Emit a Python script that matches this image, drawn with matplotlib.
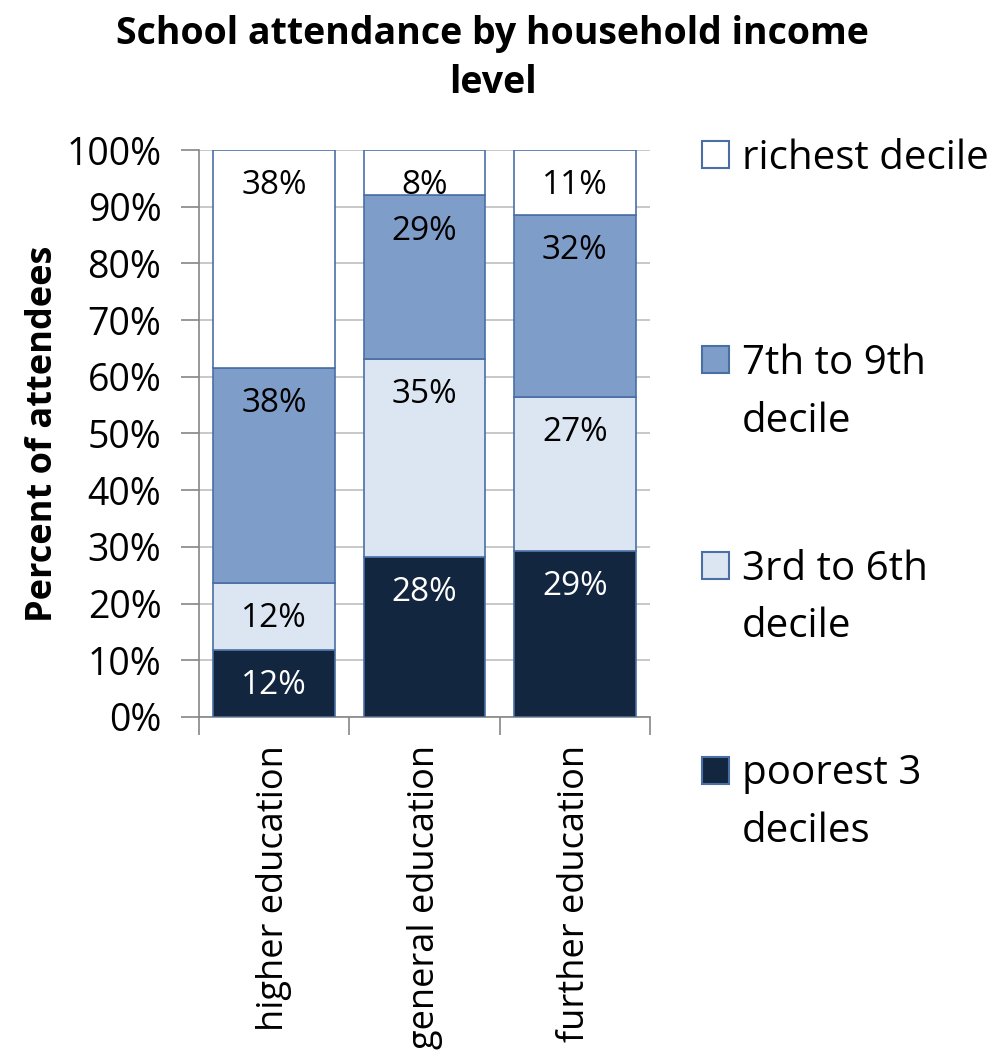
import matplotlib
matplotlib.use("Agg")
import matplotlib.pyplot as plt
from matplotlib.patches import Rectangle
import numpy as np

plt.rcParams['font.family'] = ['Open Sans', 'DejaVu Sans']

# categories and series (percent of attendees)
categories = ['higher education', 'general education', 'further education']
series_names = ['poorest 3\ndeciles', '3rd to 6th\ndecile', '7th to 9th\ndecile', 'richest decile']
poorest = [11.9, 28.2, 29.3]
middle = [11.8, 35.0, 27.2]
upper = [37.9, 28.8, 32.1]
richest = [38.4, 8.0, 11.4]
yticks = [0, 10, 20, 30, 40, 50, 60, 70, 80, 90, 100]

colors = ['#13263F', '#DCE6F2', '#7F9DC9', '#FFFFFF']
label_colors = ['white', 'black', 'black', 'black']
edge = '#4A6FA5'

fig = plt.figure(figsize=(10.05, 10.55), dpi=100)
ax = fig.add_axes([0.198, 0.3204, 0.4488, 0.5374])

x = np.arange(len(categories))
bottom = np.zeros(len(categories))
for vals, col, lc in zip([poorest, middle, upper, richest], colors, label_colors):
    vals = np.array(vals)
    ax.bar(x, vals, bottom=bottom, width=0.81, color=col, edgecolor=edge, linewidth=1.2, zorder=3)
    top = bottom + vals
    for xi, t, v in zip(x, top, vals):
        ax.text(xi, t - 6.3, '%.0f%%' % v, ha='center', va='center', fontsize=24, color=lc, zorder=4)
    bottom = top

ax.set_xlim(-0.5, len(categories) - 0.5)
ax.set_ylim(0, 100)
ax.set_yticks(yticks)
ax.set_yticklabels(['%d%%' % v for v in yticks], fontsize=27)
ax.yaxis.grid(True, color='#BFBFBF', linewidth=1.2, zorder=0)

# category labels at centres, tick marks at boundaries
ax.set_xticks(x)
ax.set_xticklabels(categories, rotation=90, fontsize=26, va='top')
ax.tick_params(axis='x', length=0, pad=20)
ax.set_xticks(np.arange(len(categories) + 1) - 0.5, minor=True)
ax.tick_params(axis='x', which='minor', length=13, color='#868686', width=1.2)
ax.tick_params(axis='y', length=13, color='#868686', width=1.2, pad=14)

for s in ['top', 'right']:
    ax.spines[s].set_visible(False)
for s in ['left', 'bottom']:
    ax.spines[s].set_color('#868686')
    ax.spines[s].set_linewidth(1.2)

ax.set_ylabel('Percent of attendees', fontsize=26, fontweight='bold', va='center')
ax.yaxis.set_label_coords(-0.346, 0.5)

fig.suptitle('School attendance by household income\nlevel', x=0.49, y=0.986,
             fontsize=27, fontweight='bold', linespacing=1.4)

# legend drawn by hand so the square sits beside the first line of each label
sq_w, sq_h = 27 / 1005, 27 / 1055
entry_gap = 205 / 1055
y0 = 1 - 155 / 1055
for i, (name, col) in enumerate(zip(series_names[::-1], colors[::-1])):
    yc = y0 - i * entry_gap
    fig.add_artist(Rectangle((702 / 1005, yc - sq_h / 2), sq_w, sq_h, transform=fig.transFigure,
                             facecolor=col, edgecolor=edge, linewidth=1.5))
    fig.text(742 / 1005, yc + 16 / 1055, name, ha='left', va='top', fontsize=29, linespacing=1.55)

fig.savefig('out.png', dpi=100)
